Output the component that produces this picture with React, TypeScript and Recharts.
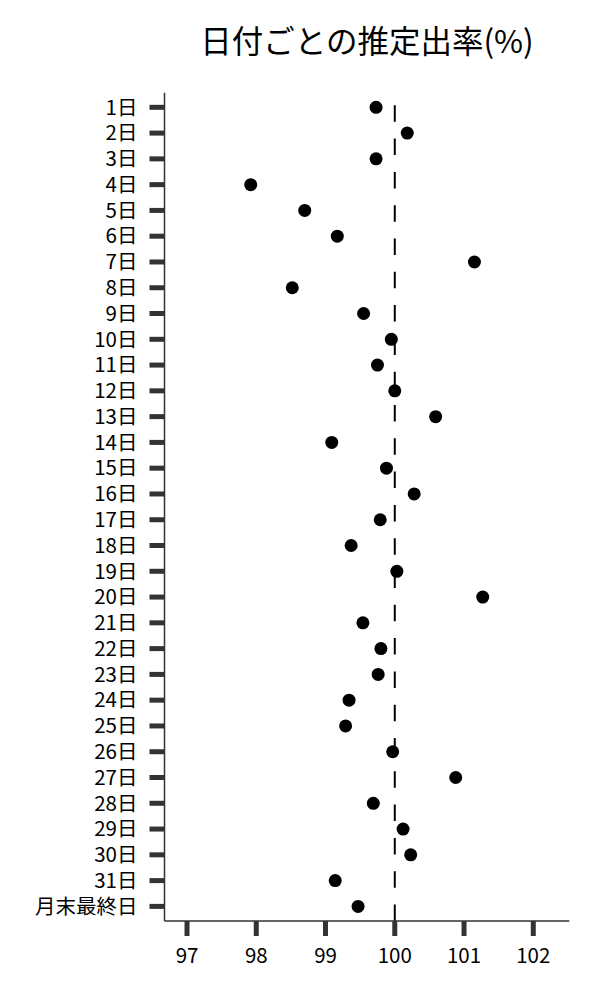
import React from 'react';
import { ScatterChart, Scatter, XAxis, YAxis, ReferenceLine } from 'recharts';

const dayLabels: string[] = [
  '1日', '2日', '3日', '4日', '5日', '6日', '7日', '8日', '9日', '10日',
  '11日', '12日', '13日', '14日', '15日', '16日', '17日', '18日', '19日', '20日',
  '21日', '22日', '23日', '24日', '25日', '26日', '27日', '28日', '29日', '30日',
  '31日', '月末最終日',
];

const rateValues: number[] = [
  99.73, 100.18, 99.73, 97.92, 98.7, 99.17, 101.15, 98.52, 99.55, 99.95,
  99.75, 100.0, 100.59, 99.09, 99.88, 100.28, 99.79, 99.37, 100.03, 101.27,
  99.54, 99.8, 99.76, 99.34, 99.29, 99.97, 100.88, 99.69, 100.12, 100.23,
  99.14, 99.47,
];

const xTicks: number[] = [97, 98, 99, 100, 101, 102];
const referenceValue = 100;
const title = '日付ごとの推定出率(%)';

const data = rateValues.map((v, i) => ({ x: v, y: i }));
const yTicks = dayLabels.map((_, i) => i);

const FONT = '"Noto Sans CJK JP", "Noto Sans", sans-serif';

const Dot = (props: any) => {
  const { cx, cy } = props;
  if (cx == null || cy == null) return null;
  return <circle cx={cx} cy={cy} r={6.5} fill="#000" />;
};

const DashedRef = (props: any) => {
  const { x1, y1, x2, y2 } = props;
  if (x1 == null || y1 == null) return null;
  const bottom = Math.max(y1, y2);
  const top = Math.min(y1, y2);
  return (
    <line
      x1={x1}
      y1={bottom}
      x2={x2}
      y2={top}
      stroke="#000"
      strokeWidth={2}
      strokeDasharray="16.5 16.8"
    />
  );
};

export default function App() {
  const W = 584;
  const H = 984;
  return (
    <div style={{ position: 'relative', width: W, height: H }}>
      <ScatterChart
        width={W}
        height={H}
        margin={{ top: 84.7, right: 22.7, bottom: 0, left: 0 }}
      >
        <XAxis
          type="number"
          dataKey="x"
          domain={[96.675, 102.52]}
          ticks={xTicks}
          interval={0}
          allowDataOverflow
          height={71}
          tickSize={15}
          tickMargin={12}
          axisLine={{ stroke: '#333', strokeWidth: 1.5 }}
          tickLine={{ stroke: '#333', strokeWidth: 5 }}
          tick={{ fill: '#000', fontSize: 20.5, fontFamily: FONT }}
        />
        <YAxis
          type="number"
          dataKey="y"
          domain={[-0.567, 31.567]}
          reversed
          ticks={yTicks}
          interval={0}
          allowDataOverflow
          width={156.5}
          tickSize={15}
          tickMargin={12}
          tickFormatter={(v: number) => dayLabels[v] ?? ''}
          axisLine={{ stroke: '#333', strokeWidth: 1.5 }}
          tickLine={{ stroke: '#333', strokeWidth: 5 }}
          tick={{ fill: '#000', fontSize: 20.5, fontFamily: FONT }}
        />
        <ReferenceLine x={referenceValue} shape={DashedRef} />
        <Scatter data={data} shape={<Dot />} isAnimationActive={false} />
      </ScatterChart>
      <svg
        width={W}
        height={90}
        style={{ position: 'absolute', left: 0, top: 0, pointerEvents: 'none' }}
      >
        <text
          x={359}
          y={45}
          textAnchor="middle"
          fontSize={31.5}
          fontFamily={FONT}
          fill="#000"
        >
          {title}
        </text>
      </svg>
    </div>
  );
}
